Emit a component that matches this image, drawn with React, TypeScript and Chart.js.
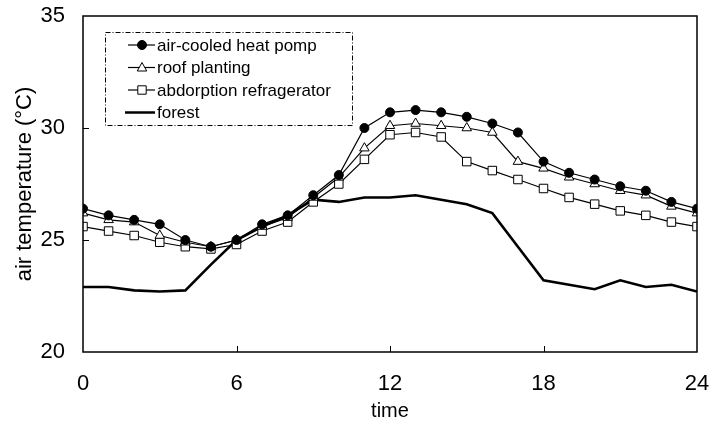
import React, { useEffect, useRef } from "react";
import { Chart, registerables } from "chart.js";

Chart.register(...registerables);

const hours = [0, 1, 2, 3, 4, 5, 6, 7, 8, 9, 10, 11, 12, 13, 14, 15, 16, 17, 18, 19, 20, 21, 22, 23, 24];
const heatPump = [26.4, 26.1, 25.9, 25.7, 25.0, 24.7, 25.0, 25.7, 26.1, 27.0, 27.9, 30.0, 30.7, 30.8, 30.7, 30.5, 30.2, 29.8, 28.5, 28.0, 27.7, 27.4, 27.2, 26.7, 26.4];
const roofPlanting = [26.2, 25.9, 25.8, 25.2, 24.9, 24.7, 25.0, 25.6, 26.0, 26.9, 27.8, 29.1, 30.1, 30.2, 30.1, 30.0, 29.8, 28.5, 28.2, 27.8, 27.5, 27.2, 27.0, 26.5, 26.2];
const absorption = [25.6, 25.4, 25.2, 24.9, 24.7, 24.6, 24.8, 25.4, 25.8, 26.7, 27.5, 28.6, 29.7, 29.8, 29.6, 28.5, 28.1, 27.7, 27.3, 26.9, 26.6, 26.3, 26.1, 25.8, 25.6];
const forest = [22.9, 22.9, 22.75, 22.7, 22.75, 23.9, 25.0, 25.6, 26.1, 26.8, 26.7, 26.9, 26.9, 27.0, 26.8, 26.6, 26.2, 24.7, 23.2, 23.0, 22.8, 23.2, 22.9, 23.0, 22.7];

const xTicks = [0, 6, 12, 18, 24];
const yTicks = [20, 25, 30, 35];
const seriesLabels = ["air-cooled heat pomp", "roof planting", "abdorption refragerator", "forest"];
const seriesStyles = ["circle", "triangle", "rect", "none"];

const FONT = "'Liberation Sans', Arial, sans-serif";

const toPoints = (vals: number[]) => hours.map((h, i) => ({ x: h, y: vals[i] }));

function drawMarker(ctx: CanvasRenderingContext2D, style: string, x: number, y: number) {
  ctx.save();
  ctx.lineWidth = 1;
  ctx.strokeStyle = "#000";
  ctx.beginPath();
  if (style === "circle") {
    ctx.fillStyle = "#000";
    ctx.arc(x, y, 4.5, 0, Math.PI * 2);
    ctx.fill();
    ctx.stroke();
  } else if (style === "triangle") {
    ctx.fillStyle = "#fff";
    const r = 5;
    ctx.moveTo(x, y - r);
    ctx.lineTo(x + r * 0.95, y + r * 0.7);
    ctx.lineTo(x - r * 0.95, y + r * 0.7);
    ctx.closePath();
    ctx.fill();
    ctx.stroke();
  } else if (style === "rect") {
    ctx.fillStyle = "#fff";
    ctx.rect(x - 4.2, y - 4.2, 8.4, 8.4);
    ctx.fill();
    ctx.stroke();
  }
  ctx.restore();
}

const frameTicksPlugin = {
  id: "frameTicks",
  afterDatasetsDraw(chart: any) {
    const { ctx, chartArea, scales } = chart;
    const { left, right, top, bottom } = chartArea;
    ctx.save();
    ctx.strokeStyle = "#000";
    ctx.lineWidth = 1.5;
    ctx.strokeRect(left, top, right - left, bottom - top);
    ctx.lineWidth = 1;
    ctx.beginPath();
    for (const v of yTicks.slice(1, -1)) {
      const py = Math.round(scales.y.getPixelForValue(v)) + 0.5;
      ctx.moveTo(left, py);
      ctx.lineTo(left + 6, py);
    }
    for (const v of xTicks.slice(1, -1)) {
      const px = Math.round(scales.x.getPixelForValue(v)) + 0.5;
      ctx.moveTo(px, bottom);
      ctx.lineTo(px, bottom - 6);
    }
    ctx.stroke();
    ctx.restore();
  },
};

const legendPlugin = {
  id: "customLegend",
  afterDraw(chart: any) {
    const { ctx, chartArea } = chart;
    const bx = chartArea.left + 22;
    const by = chartArea.top + 16;
    const bw = 247;
    const bh = 93;
    ctx.save();
    ctx.fillStyle = "#fff";
    ctx.fillRect(bx, by, bw, bh);
    ctx.strokeStyle = "#000";
    ctx.lineWidth = 1;
    ctx.setLineDash([5, 2, 1, 2]);
    ctx.strokeRect(bx + 0.5, by + 0.5, bw, bh);
    ctx.setLineDash([]);
    ctx.font = `17px ${FONT}`;
    ctx.textBaseline = "middle";
    ctx.textAlign = "left";
    seriesLabels.forEach((lab, i) => {
      const cy = by + 13 + i * 22.5;
      ctx.strokeStyle = "#000";
      ctx.beginPath();
      if (seriesStyles[i] === "none") {
        ctx.lineWidth = 2.5;
        ctx.moveTo(bx + 20, cy);
        ctx.lineTo(bx + 50, cy);
      } else {
        ctx.lineWidth = 1.2;
        ctx.moveTo(bx + 23, cy);
        ctx.lineTo(bx + 50, cy);
      }
      ctx.stroke();
      drawMarker(ctx, seriesStyles[i], bx + 37, cy);
      ctx.fillStyle = "#000";
      ctx.fillText(lab, bx + 52, cy + 1);
    });
    ctx.restore();
  },
};

const zeroPad = (s: any) => {
  s.paddingTop = 0;
  s.paddingBottom = 0;
  s.paddingLeft = 0;
  s.paddingRight = 0;
};

export default function App() {
  const ref = useRef<HTMLCanvasElement | null>(null);
  useEffect(() => {
    if (!ref.current) return;
    const chart = new Chart(ref.current, {
      type: "line",
      data: {
        datasets: [
          {
            label: seriesLabels[0],
            data: toPoints(heatPump),
            borderColor: "#000",
            borderWidth: 1.2,
            pointStyle: "circle",
            pointRadius: 4.5,
            pointBackgroundColor: "#000",
            pointBorderColor: "#000",
            pointBorderWidth: 1,
            order: 1,
          },
          {
            label: seriesLabels[1],
            data: toPoints(roofPlanting),
            borderColor: "#000",
            borderWidth: 1.2,
            pointStyle: "triangle",
            pointRadius: 5.5,
            pointBackgroundColor: "#fff",
            pointBorderColor: "#000",
            pointBorderWidth: 1,
            order: 2,
          },
          {
            label: seriesLabels[2],
            data: toPoints(absorption),
            borderColor: "#000",
            borderWidth: 1.2,
            pointStyle: "rect",
            pointRadius: 6,
            pointBackgroundColor: "#fff",
            pointBorderColor: "#000",
            pointBorderWidth: 1,
            order: 3,
          },
          {
            label: seriesLabels[3],
            data: toPoints(forest),
            borderColor: "#000",
            borderWidth: 2.6,
            pointRadius: 0,
            order: 10,
          },
        ],
      },
      options: {
        animation: false,
        responsive: false,
        layout: { padding: { top: 16, right: 22, left: 0, bottom: 0 } },
        plugins: { legend: { display: false }, tooltip: { enabled: false } },
        scales: {
          x: {
            type: "linear",
            min: 0,
            max: 24,
            afterFit: (s: any) => { s.height = 76; zeroPad(s); },
            afterBuildTicks: (s: any) => { s.ticks = xTicks.map((v) => ({ value: v })); },
            grid: { display: false, drawTicks: false },
            border: { display: false },
            ticks: { color: "#000", font: { family: FONT, size: 22 }, padding: 19, maxRotation: 0 },
            title: { display: true, text: "time", color: "#000", font: { family: FONT, size: 20 }, padding: { top: 0, bottom: 5 } },
          },
          y: {
            min: 20,
            max: 35,
            afterFit: (s: any) => { s.width = 83; zeroPad(s); },
            afterBuildTicks: (s: any) => { s.ticks = yTicks.map((v) => ({ value: v })); },
            grid: { display: false, drawTicks: false },
            border: { display: false },
            ticks: { color: "#000", font: { family: FONT, size: 22 }, padding: 18 },
            title: { display: true, text: "air temperature (°C)", color: "#000", font: { family: FONT, size: 22 }, padding: { top: 12, bottom: 0 } },
          },
        },
      },
      plugins: [frameTicksPlugin, legendPlugin],
    } as any);
    return () => chart.destroy();
  }, []);
  return (
    <div style={{ position: "absolute", left: 0, top: 0, width: 719, height: 428, background: "#fff" }}>
      <canvas ref={ref} width={719} height={428} />
    </div>
  );
}
